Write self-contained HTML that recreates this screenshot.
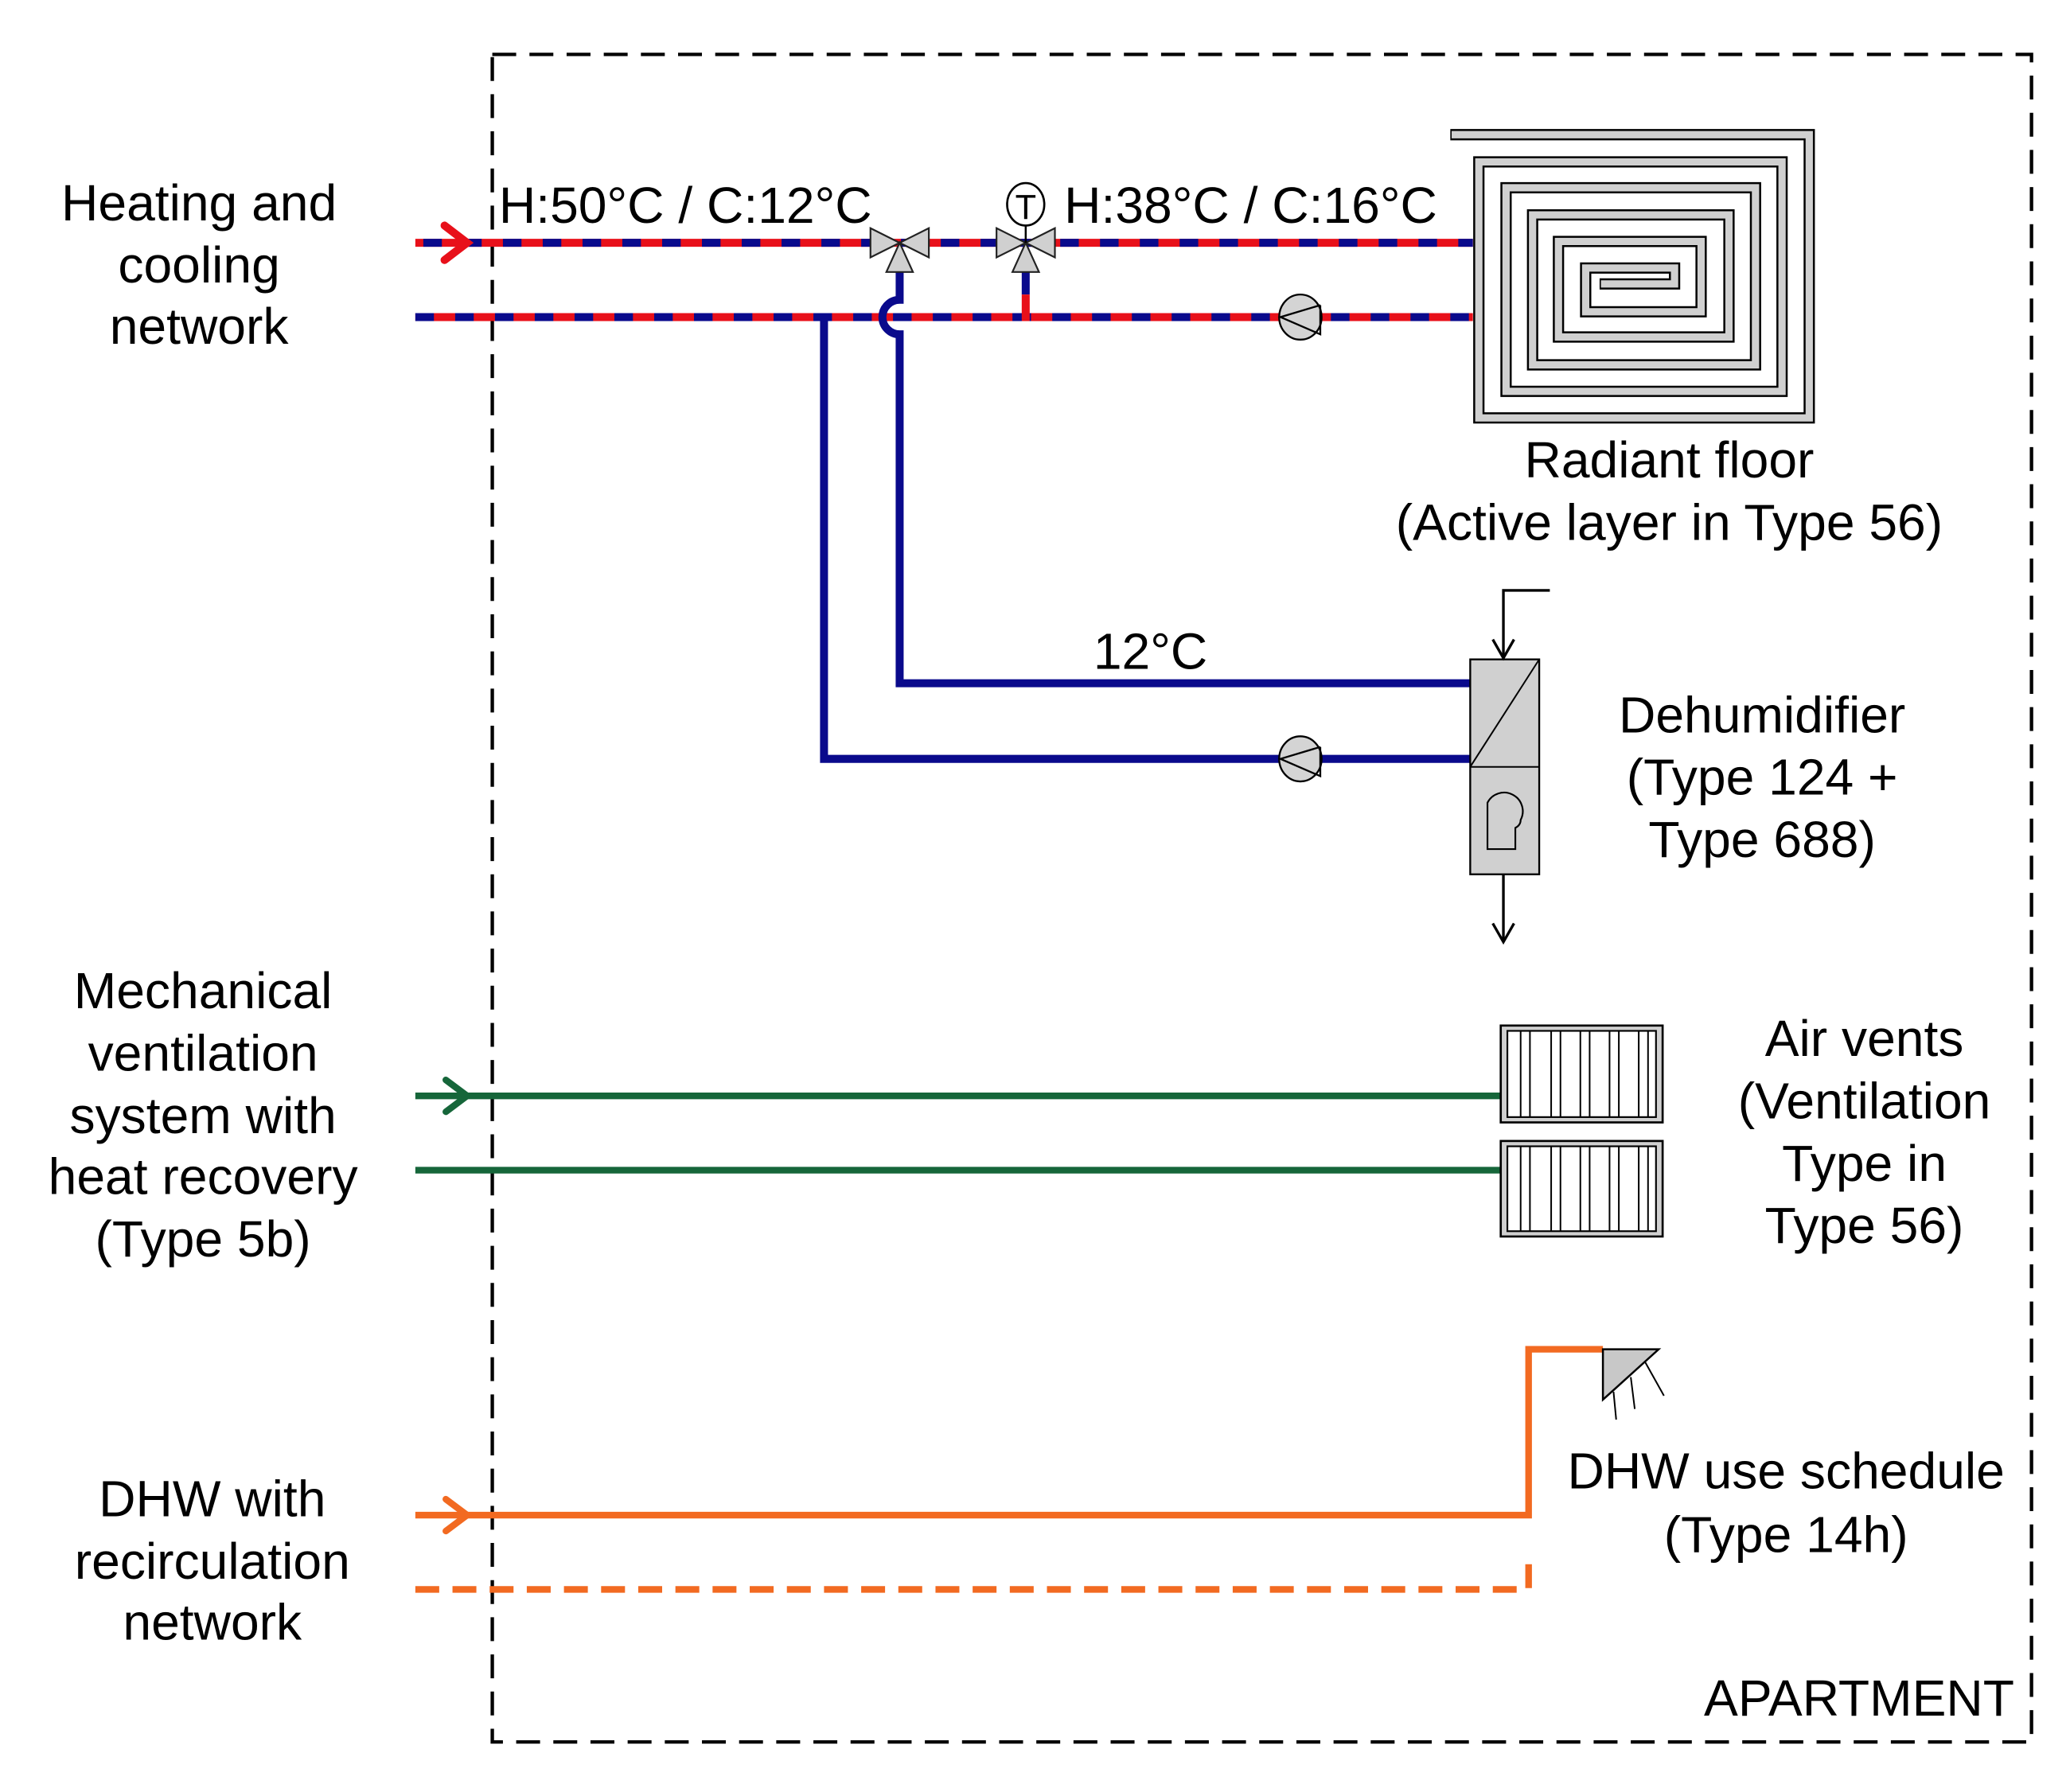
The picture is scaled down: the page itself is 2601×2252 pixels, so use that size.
<!DOCTYPE html>
<html><head><meta charset="utf-8"><style>
html,body{margin:0;padding:0;background:#fff;}
svg{display:block;}
text{font-family:"Liberation Sans",Arial,sans-serif;font-size:38.5px;fill:#000;}
</style></head><body>
<svg width="2601" height="2252" viewBox="0 0 1560 1350.7" xmlns="http://www.w3.org/2000/svg">
<rect width="1560" height="1351" fill="#fff"/>
<rect x="371" y="41" width="1160" height="1272" fill="none" stroke="#000" stroke-width="2.6" stroke-dasharray="18,10"/>

<g stroke-width="6">
<line x1="313" y1="183" x2="1110" y2="183" stroke="#e8101a"/>
<line x1="313" y1="183" x2="1110" y2="183" stroke="#0a0a8c" stroke-dasharray="14,16" stroke-dashoffset="-6"/>
<line x1="313" y1="239" x2="1110" y2="239" stroke="#e8101a"/>
<line x1="313" y1="239" x2="1110" y2="239" stroke="#0a0a8c" stroke-dasharray="14,16"/>
</g>
<polyline points="335,170 352,183 335,196" fill="none" stroke="#e8101a" stroke-width="6" stroke-linecap="round"/>

<g fill="none" stroke="#0a0a8c" stroke-width="6">
<path d="M678,205 V226 A13,13 0 0 0 678,252 V515 H1108"/>
<polyline points="621,239 621,572 1108,572"/>
<line x1="773" y1="205" x2="773" y2="222"/>
</g>
<line x1="773" y1="222" x2="773" y2="242" stroke="#e8101a" stroke-width="6"/>

<g fill="#d0d0d0" stroke="#222" stroke-width="1.3">
<polygon points="656,172 678,183 656,194"/><polygon points="700,172 678,183 700,194"/><polygon points="678,183 668,205 688,205"/>
<polygon points="751,172 773,183 751,194"/><polygon points="795,172 773,183 795,194"/><polygon points="773,183 763,205 783,205"/>
</g>
<line x1="773" y1="170" x2="773" y2="183" stroke="#000" stroke-width="1.5"/>
<ellipse cx="773" cy="154" rx="14" ry="16" fill="#fff" stroke="#000" stroke-width="1.6"/>
<text x="773" y="165" text-anchor="middle" style="font-size:26px">T</text>

<g fill="#d4d4d4" stroke="#000" stroke-width="1.4">
<ellipse cx="980" cy="239" rx="16" ry="17"/><polyline points="995,230 965,239 995,252 995,230" fill="none"/>
<ellipse cx="980" cy="572" rx="16" ry="17"/><polyline points="995,563 965,572 995,585 995,563" fill="none"/>
</g>

<g fill="none" stroke-linejoin="miter" stroke-linecap="butt">
<path d="M1093,101.5 H1363.5 V315 H1114.5 V122 H1343 V295 H1135 V141.5 H1323 V275 H1155 V162 H1303 V254 H1174.5 V182 H1282 V235 H1195 V202 H1262 V214 H1205.5" stroke="#000" stroke-width="8.5"/>
<path d="M1094,101.5 H1363.5 V315 H1114.5 V122 H1343 V295 H1135 V141.5 H1323 V275 H1155 V162 H1303 V254 H1174.5 V182 H1282 V235 H1195 V202 H1262 V214 H1206.5" stroke="#d0d0d0" stroke-width="5.5"/>
</g>

<rect x="1108" y="497" width="52" height="162" fill="#d0d0d0" stroke="#000" stroke-width="1.4"/>
<line x1="1108" y1="578" x2="1160" y2="578" stroke="#000" stroke-width="1.2"/>
<line x1="1108" y1="578" x2="1160" y2="497" stroke="#000" stroke-width="1.2"/>
<path d="M1121,640 V605 A14,14 0 1 1 1146,618 Q1146,622 1142,624 V640 Z" fill="none" stroke="#000" stroke-width="1.3"/>
<g fill="none" stroke="#000" stroke-width="2">
<polyline points="1168,445 1133,445 1133,496"/>
<polyline points="1125,482 1133,496 1141,482"/>
<line x1="1133" y1="659" x2="1133" y2="710"/>
<polyline points="1125,696 1133,710 1141,696"/>
</g>

<g stroke="#16663a" stroke-width="5" fill="none">
<line x1="313" y1="826" x2="1131" y2="826"/>
<line x1="313" y1="882" x2="1131" y2="882"/>
<polyline points="336,814 352,826 336,838" stroke-linecap="round"/>
</g>
<g stroke="#000" fill="none">
<rect x="1131" y="773" width="122" height="73" fill="#d0d0d0" stroke-width="1.6"/>
<rect x="1136" y="777" width="112" height="65" fill="#fff" stroke-width="1.3"/>
<rect x="1131" y="860" width="122" height="72" fill="#d0d0d0" stroke-width="1.6"/>
<rect x="1136" y="864" width="112" height="64" fill="#fff" stroke-width="1.3"/>
<path stroke-width="1.2" d="M1146,777V842M1153,777V842M1169,777V842M1176,777V842M1191,777V842M1198,777V842M1213,777V842M1220,777V842M1235,777V842M1242,777V842 M1146,864V928M1153,864V928M1169,864V928M1176,864V928M1191,864V928M1198,864V928M1213,864V928M1220,864V928M1235,864V928M1242,864V928"/>
</g>

<g stroke="#f26a21" stroke-width="5" fill="none">
<polyline points="313,1142 1152,1142 1152,1017 1208,1017"/>
<polyline points="336,1130 352,1142 336,1154" stroke-linecap="round"/>
<polyline points="313,1198 1152,1198 1152,1178" stroke-dasharray="18,10"/>
</g>
<polygon points="1208,1017 1250,1017 1208,1055" fill="#c8c8c8" stroke="#000" stroke-width="1.5"/>
<g stroke="#000" stroke-width="1.2" fill="none">
<path d="M1216,1049 L1218,1070"/><path d="M1229,1038 L1232,1062"/><path d="M1240,1027 L1254,1052"/>
</g>

<g text-anchor="middle">
<text x="150" y="166">Heating and</text>
<text x="150" y="213">cooling</text>
<text x="150" y="259">network</text>
<text x="153" y="760">Mechanical</text>
<text x="153" y="807">ventilation</text>
<text x="153" y="854">system with</text>
<text x="153" y="900">heat recovery</text>
<text x="153" y="947">(Type 5b)</text>
<text x="160" y="1143">DHW with</text>
<text x="160" y="1190">recirculation</text>
<text x="160" y="1236">network</text>
<text x="1258" y="360">Radiant floor</text>
<text x="1258" y="407">(Active layer in Type 56)</text>
<text x="867" y="504">12°C</text>
<text x="1328" y="552">Dehumidifier</text>
<text x="1328" y="599">(Type 124 +</text>
<text x="1328" y="646">Type 688)</text>
<text x="1405" y="796">Air vents</text>
<text x="1405" y="843">(Ventilation</text>
<text x="1405" y="890">Type in</text>
<text x="1405" y="937">Type 56)</text>
<text x="1346" y="1122">DHW use schedule</text>
<text x="1346" y="1170">(Type 14h)</text>
</g>
<text x="376" y="168">H:50°C / C:12°C</text>
<text x="802" y="168">H:38°C / C:16°C</text>
<text x="1518" y="1293" text-anchor="end">APARTMENT</text>
</svg>
</body></html>
